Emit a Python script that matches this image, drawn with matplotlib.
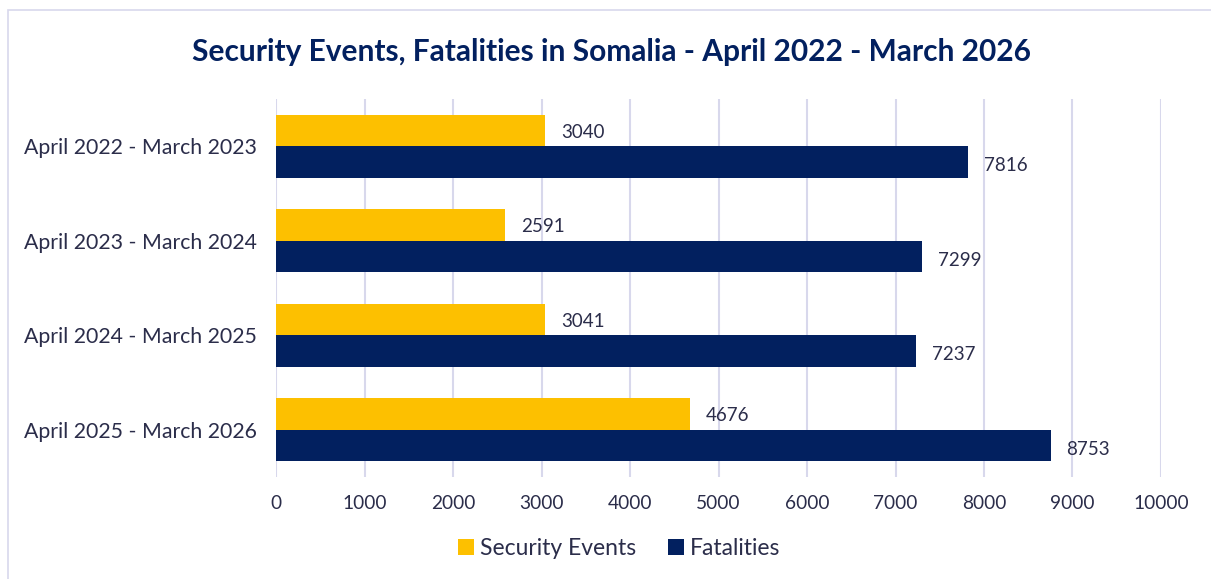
import numpy as np
import matplotlib
matplotlib.use('Agg')
import matplotlib.pyplot as plt
from matplotlib.patches import Rectangle

periods = ['April 2022 - March 2023', 'April 2023 - March 2024',
           'April 2024 - March 2025', 'April 2025 - March 2026']
security_events = [3040, 2591, 3041, 4676]
fatalities = [7816, 7299, 7237, 8753]

yellow = '#FDC000'
navy = '#02205F'
text_col = '#2B2D4A'
grid_col = '#D8D8EC'

plt.rcParams['font.family'] = ['Lato', 'DejaVu Sans']

fig = plt.figure(figsize=(12.11, 5.79), dpi=100)
ax = fig.add_axes([0.228, 0.176, 0.7307, 0.653])

# light frame around the whole chart
fig.patches.append(Rectangle((8 / 1211, -0.05), 1.1, 1 - 10 / 579 + 0.05,
                             transform=fig.transFigure, fill=False,
                             edgecolor=grid_col, linewidth=1.2))

y = np.arange(len(periods))
h = 0.335
ax.barh(y - h / 2, security_events, height=h, color=yellow, label='Security Events', zorder=3)
ax.barh(y + h / 2, fatalities, height=h, color=navy, label='Fatalities', zorder=3)

for i in range(len(periods)):
    ax.text(security_events[i] + 180, y[i] - h / 2 + 0.02, str(security_events[i]),
            va='center', ha='left', fontsize=13.5, color=text_col)
    ax.text(fatalities[i] + 180, y[i] + h / 2 + 0.04, str(fatalities[i]),
            va='center', ha='left', fontsize=13.5, color=text_col)

ax.set_xlim(0, 10000)
ax.set_ylim(3.5, -0.5)
ax.set_xticks(np.arange(0, 10001, 1000))
ax.set_yticks(y)
ax.set_yticklabels(periods)
ax.tick_params(axis='both', length=0, colors=text_col)
ax.tick_params(axis='y', labelsize=15.3, pad=14)
ax.tick_params(axis='x', labelsize=13.8, pad=13)
ax.grid(axis='x', color=grid_col, linewidth=1.5, zorder=0)
for s in ax.spines.values():
    s.set_visible(False)

fig.suptitle('Security Events, Fatalities in Somalia - April 2022 - March 2026',
             x=0.505, y=0.934, fontsize=21.5, fontweight='bold', color=navy)

leg = fig.legend(loc='center', bbox_to_anchor=(0.511, 0.052), ncol=2, frameon=False,
                 fontsize=16.5, handlelength=0.7, handleheight=0.7,
                 handletextpad=0.25, columnspacing=1.4)
for t in leg.get_texts():
    t.set_color(text_col)

fig.savefig('out.png', dpi=100)
